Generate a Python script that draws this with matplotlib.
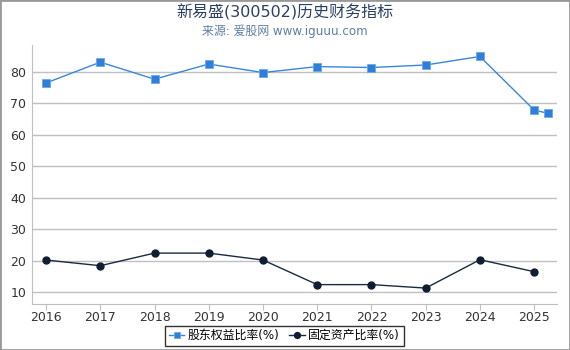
import matplotlib
matplotlib.use("Agg")
import matplotlib.pyplot as plt
from matplotlib.patches import Rectangle

plt.rcParams['font.family'] = ['DejaVu Sans', 'Noto Sans CJK SC']

years_blue = [2016, 2017, 2018, 2019, 2020, 2021, 2022, 2023, 2024, 2025, 2025.25]
equity_ratio = [76.4, 83.0, 77.6, 82.4, 79.7, 81.6, 81.3, 82.1, 84.8, 67.8, 66.8]
years_black = [2016, 2017, 2018, 2019, 2020, 2021, 2022, 2023, 2024, 2025]
fixed_ratio = [20.2, 18.4, 22.4, 22.4, 20.2, 12.4, 12.4, 11.3, 20.3, 16.5]
xticks = [2016, 2017, 2018, 2019, 2020, 2021, 2022, 2023, 2024, 2025]
yticks = [10, 20, 30, 40, 50, 60, 70, 80]

fig = plt.figure(figsize=(5.7, 3.5), dpi=100)
ax = fig.add_axes([0.0561, 0.131, 0.921, 0.74])

ax.plot(years_blue, equity_ratio, color='#3a86d8', lw=1.0, marker='s', ms=5.5,
        markerfacecolor='#2f7fd8', markeredgecolor='#6aa8ea', markeredgewidth=0.6,
        label='股东权益比率(%)', zorder=3)
ax.plot(years_black, fixed_ratio, color='#1a2a40', lw=1.0, marker='o', ms=5,
        markerfacecolor='#0f1e33', markeredgecolor='#0f1e33',
        label='固定资产比率(%)', zorder=3)

ax.set_xlim(2015.74, 2025.42)
ax.set_ylim(6.2, 88.4)
ax.set_xticks(xticks)
ax.set_xticklabels([str(x) for x in xticks])
ax.set_yticks(yticks)
ax.grid(axis='y', color='#c0c0c0', lw=1.0)
ax.set_axisbelow(True)
for s in ['top', 'right']:
    ax.spines[s].set_visible(False)
ax.spines['left'].set_color('#c0c0c0')
ax.spines['bottom'].set_color('#c0c0c0')
ax.tick_params(axis='y', length=0, labelsize=9, colors='#333333', pad=4)
ax.tick_params(axis='x', length=4, color='#c0c0c0', labelsize=9, colors='#333333', pad=1)

fig.text(0.5, 0.964, '新易盛(300502)历史财务指标', ha='center', va='center',
         fontsize=11.5, color='#2b4060')
fig.text(0.5, 0.912, '来源: 爱股网 www.iguuu.com', ha='center', va='center',
         fontsize=8.6, color='#5b7fa6')

leg = fig.legend(loc='lower center', bbox_to_anchor=(0.499, -0.005), ncol=2,
                 fontsize=8.6, frameon=True, handlelength=1.3, handletextpad=0.3,
                 columnspacing=0.8, borderpad=0.3, fancybox=False, markerscale=0.85)
leg.get_frame().set_edgecolor('black')
leg.get_frame().set_linewidth(1.0)

fig.patches.append(Rectangle((0, 0), 1, 1, transform=fig.transFigure,
                             fill=False, edgecolor='#999999', lw=2))
fig.savefig('out.png', dpi=100)
